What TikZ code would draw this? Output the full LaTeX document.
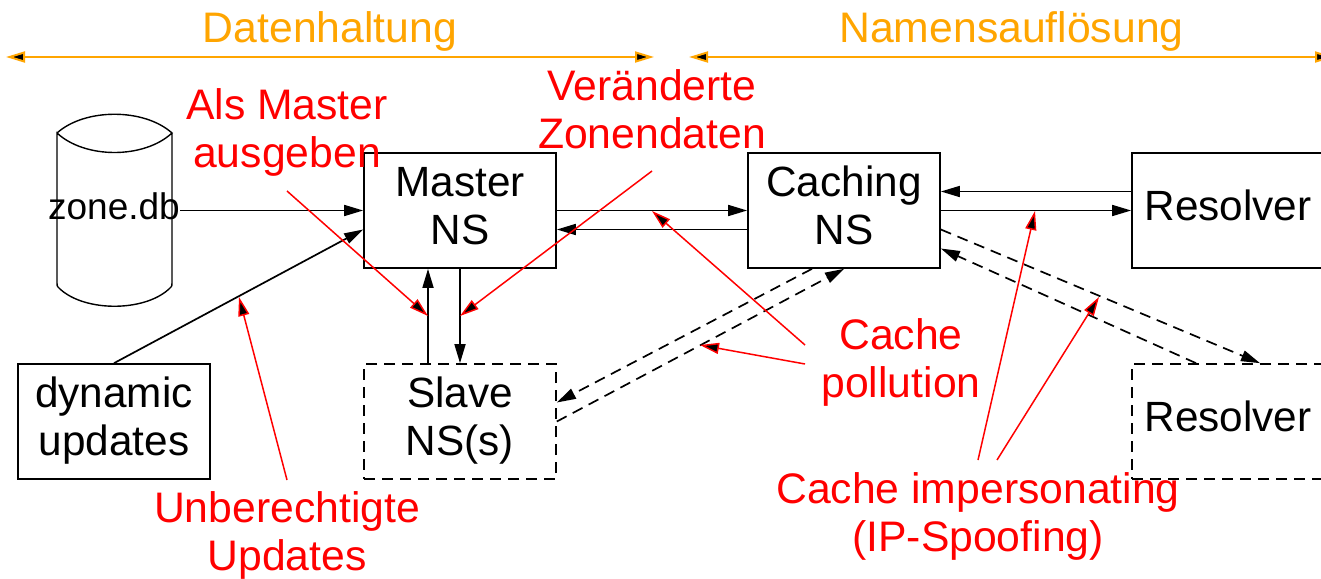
\documentclass[tikz,border=0pt]{standalone}
\usepackage{fontspec}
\setmainfont{Liberation Sans}
\usetikzlibrary{arrows.meta}
\definecolor{hdr}{RGB}{255,165,0}
\newcommand{\twol}[2]{\rule{0pt}{32pt}#1\\#2\rule[-12pt]{0pt}{12pt}}
\newcommand{\onel}[1]{\rule[-13pt]{0pt}{45pt}#1}
\tikzset{
  txt/.style={inner sep=0pt,align=center,font=\fontsize{42.3}{48}\selectfont},
  box/.style={txt,draw=black,line width=1.7pt,minimum width=192pt,minimum height=115pt},
  dbox/.style={box,dash pattern=on 11pt off 7pt},
  redtxt/.style={txt,text=red,font=\fontsize{42.7}{48}\selectfont},
  hdrtxt/.style={txt,text=hdr,font=\fontsize{42.7}{48}\selectfont},
  flow/.style={draw=black,line width=1.7pt,-{Triangle[length=19pt,width=11pt,fill=black]}},
  dflow/.style={flow,dash pattern=on 11pt off 7pt},
  attack/.style={draw=red,line width=1.5pt,-{Triangle[length=19pt,width=11pt,fill=black]}},
  span/.style={draw=hdr,line width=2pt,{Triangle[length=19pt,width=11pt,fill=black]}-{Triangle[length=19pt,width=11pt,fill=black]}}
}
\begin{document}
\begin{tikzpicture}[x=1pt,y=-1pt]
\path[use as bounding box,clip] (0,0) rectangle (1321,578);
\fill[white] (0,0) rectangle (1321,578);
% header spans
\coordinate (s1a) at (6,57); \coordinate (s1b) at (654,57);
\coordinate (s2a) at (689,57); \coordinate (s2b) at (1334,57);
\draw[span] (s1a) -- (s1b);
\draw[span] (s2a) -- (s2b);
\node[hdrtxt] (h1) at (330,33.5) {\onel{Datenhaltung}};
\node[hdrtxt] (h2) at (1011.5,33.5) {\onel{Namensauflösung}};
% database
\draw[line width=1.4pt] (57,133) .. controls (85,108) and (144,108) .. (172,133)
  .. controls (144,159) and (85,159) .. (57,133)
  -- (57,283) .. controls (57,287) and (58,287) .. (60,289)
  .. controls (85,312) and (144,312) .. (169,289)
  .. controls (171,287) and (172,287) .. (172,283) -- (172,133);
\node[txt,font=\fontsize{37}{48}\selectfont] (zone) at (114,210.5) {\rule[-14pt]{0pt}{45pt}zone.db};
% boxes
\node[box] (master) at (460,210.5) {\twol{Master}{NS}};
\node[box] (caching) at (844,210.5) {\twol{Caching}{NS}};
\node[box] (res1) at (1228,210.5) {\onel{Resolver}};
\node[box] (dyn) at (114,421.5) {\twol{dynamic}{updates}};
\node[dbox] (slave) at (460,421.5) {\twol{Slave}{NS(s)}};
\node[dbox] (res2) at (1228,421.5) {\onel{Resolver}};
% flows
\draw[flow] (zone.east) -- (master.west);
\draw[flow] (dyn.north) -- ([yshift=-19pt]master.west);
\draw[flow] (master.east) -- (caching.west);
\draw[flow] ([yshift=-19pt]caching.west) -- ([yshift=-19pt]master.east);
\draw[flow] ([xshift=-32pt]slave.north) -- ([xshift=-32pt]master.south);
\draw[flow] (master.south) -- (slave.north);
\draw[flow] (caching.east) -- (res1.west);
\draw[flow] ([yshift=19pt]res1.west) -- ([yshift=19pt]caching.east);
\draw[dflow] (slave.east) -- (caching.south);
\draw[dflow] ([xshift=-32pt]caching.south) -- ([yshift=19pt]slave.east);
\draw[dflow] ([yshift=-19pt]caching.east) -- ([xshift=32pt]res2.north);
\draw[dflow] ([xshift=-32pt]res2.north) -- ([yshift=-38pt]caching.east);
% red labels
\node[redtxt] (alsm) at (287,133) {\twol{Als Master}{ausgeben}};
\node[redtxt] (zond) at (652,114) {\twol{Veränderte}{Zonendaten}};
\node[redtxt] (unb) at (287,536) {\twol{Unberechtigte}{Updates}};
\node[redtxt] (poll) at (901,363) {\twol{Cache}{pollution}};
\node[redtxt] (imp) at (978,517) {\twol{Cache impersonating}{(IP-Spoofing)}};
% attack connectors
\coordinate (a1) at (287,191); \coordinate (t1) at (428,316);
\coordinate (a2) at (652,171); \coordinate (t2) at (460,316);
\coordinate (a3) at (287,480); \coordinate (t3) at (239,297);
\coordinate (a4) at (805,345); \coordinate (t4) at (652,211);
\coordinate (a5) at (805,364); \coordinate (t5) at (700,345);
\coordinate (a6) at (978,460); \coordinate (t6) at (1035,211);
\coordinate (a7) at (997,460); \coordinate (t7) at (1099,297);
\draw[attack] (a1) -- (t1);
\draw[attack] (a2) -- (t2);
\draw[attack] (a3) -- (t3);
\draw[attack] (a4) -- (t4);
\draw[attack] (a5) -- (t5);
\draw[attack] (a6) -- (t6);
\draw[attack] (a7) -- (t7);
\end{tikzpicture}
\end{document}
